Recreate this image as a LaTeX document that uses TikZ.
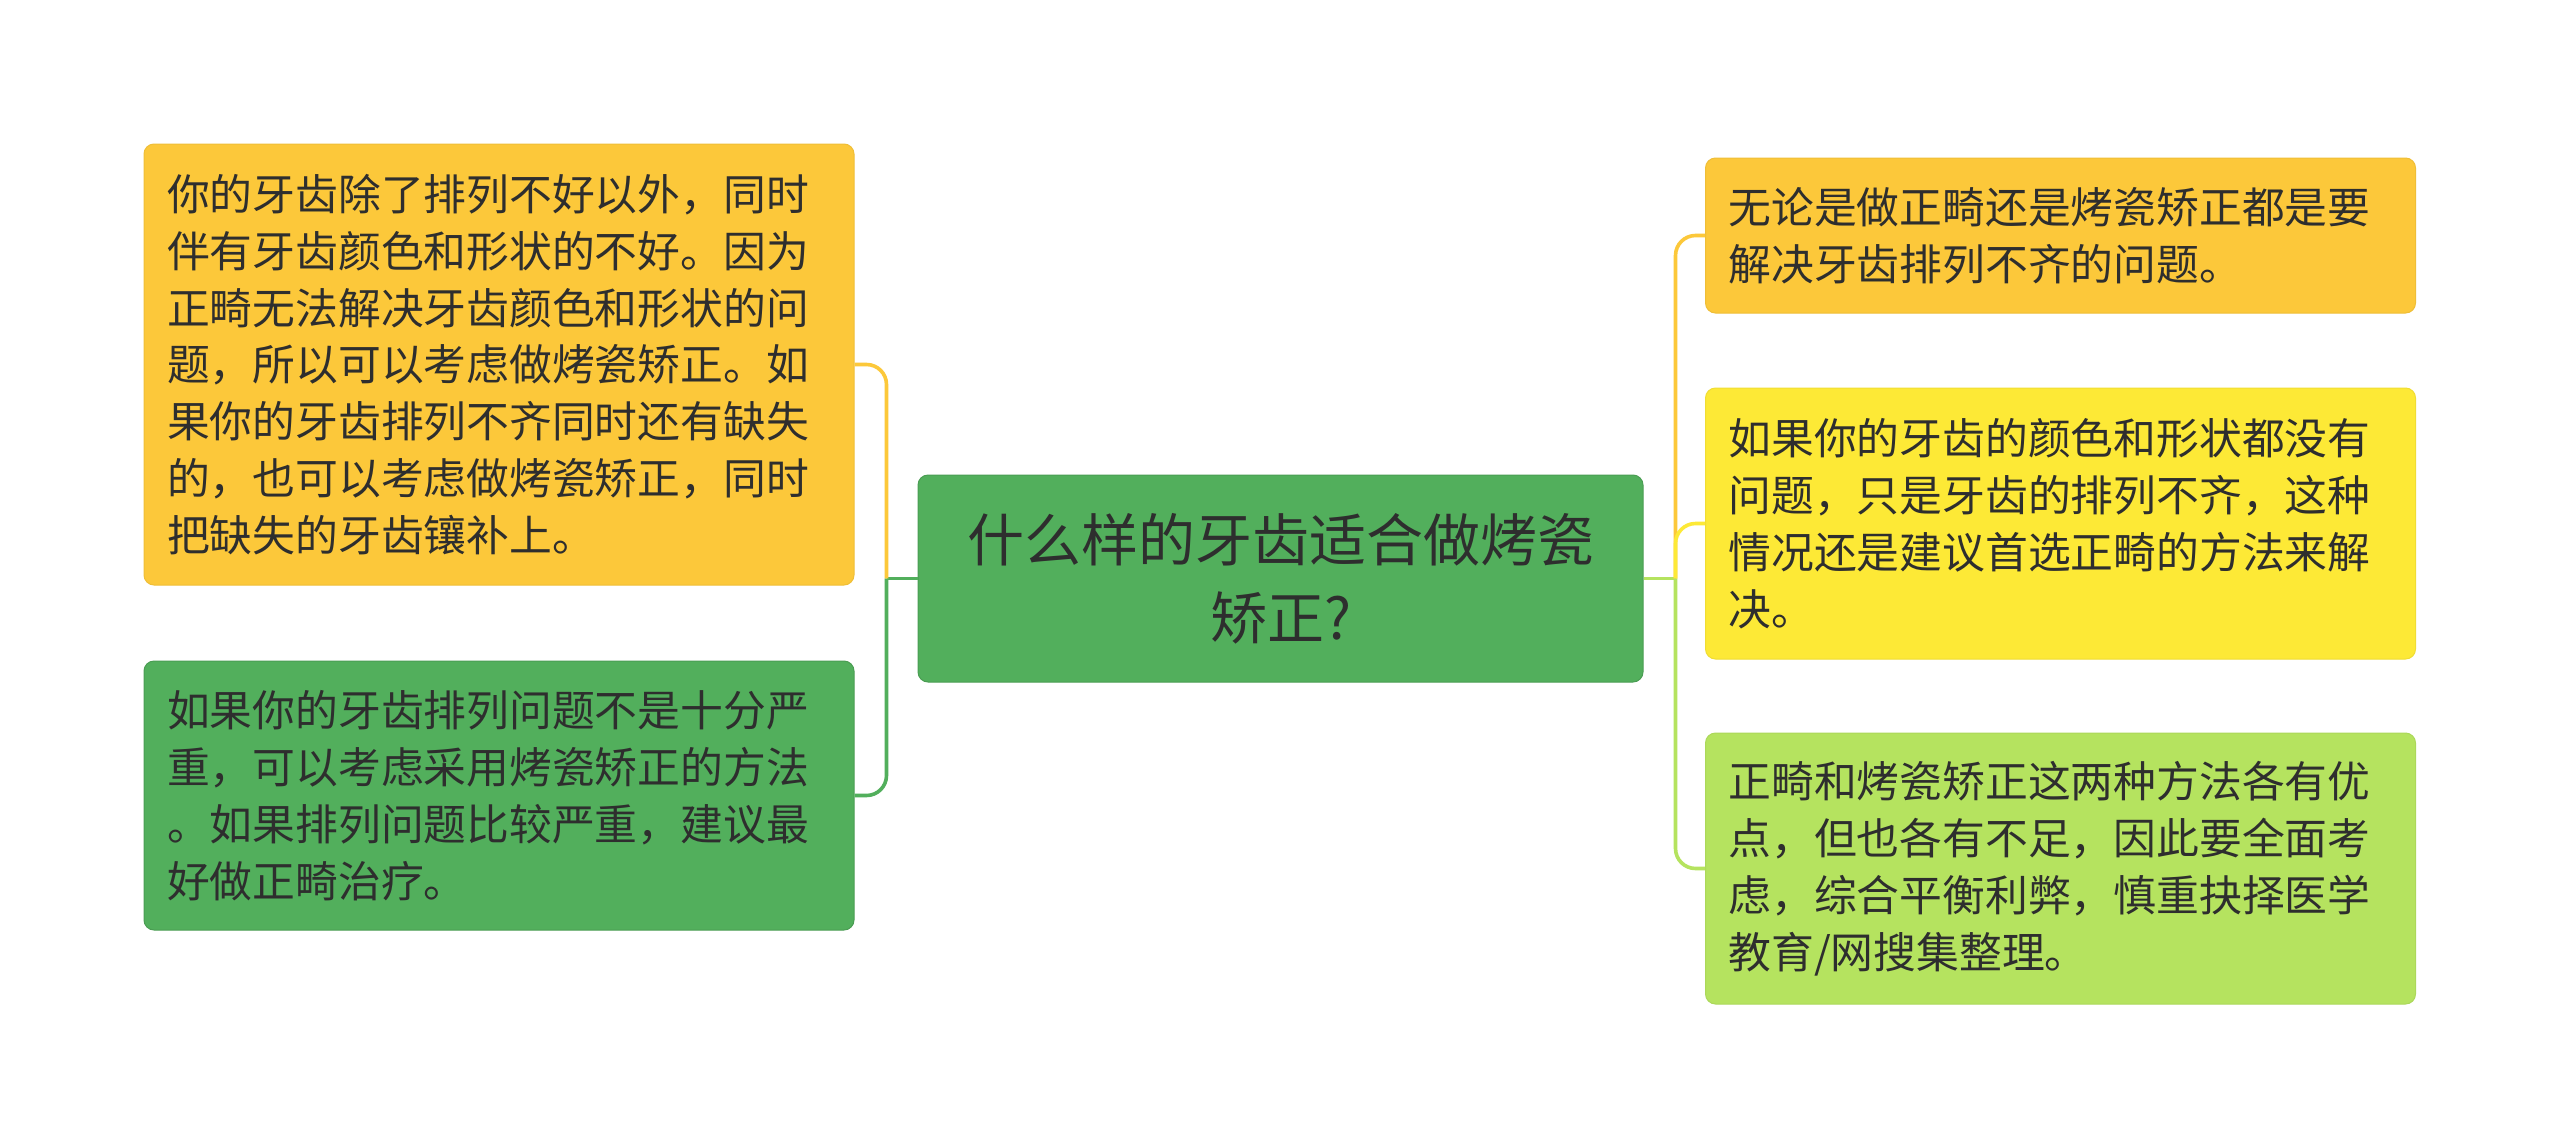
\documentclass[tikz,border=0pt]{standalone}
\usepackage{fontspec}
\newfontfamily\cjk{Noto Sans CJK SC}
\usetikzlibrary{positioning}

\definecolor{amber}{HTML}{FCC83A}
\definecolor{leaf}{HTML}{52AF5C}
\definecolor{lemon}{HTML}{FDE936}
\definecolor{lime}{HTML}{B5E35F}
\definecolor{ink}{HTML}{2E2E2E}

\begin{document}
\begin{tikzpicture}[
    x=0.5pt, y=-0.5pt,
    % central question
    topic/.style={
        rounded corners=5pt,
        fill=leaf,
        draw=leaf!90!black,
        line width=0.5pt,
        minimum width=362.5pt,
        minimum height=103.5pt,
        text width=330pt,
        align=center,
        text=ink,
        font={\cjk\fontsize{28.5pt}{39pt}\selectfont}
    },
    % side notes
    card/.style={
        rounded corners=5pt,
        line width=0.5pt,
        minimum width=355pt,
        text width=332pt,
        inner xsep=11.5pt,
        align=left,
        text=ink,
        font={\cjk\fontsize{21.4pt}{28.4pt}\selectfont}
    },
    link/.style={line width=1.8pt, rounded corners=10pt}
]

    \fill[white] (0,0) rectangle (2560,1146);
    \useasboundingbox (0,0) rectangle (2560,1146);

    % --- Nodes ---
    \node[topic] (ctr) at (1280.5,578.5) {什么样的牙齿适合做烤瓷\\矫正?};

    \node[card, fill=amber, draw=amber!95!black, minimum height=220.5pt] (ltop) at (499,364.5)
        {你的牙齿除了排列不好以外，同时\\伴有牙齿颜色和形状的不好。因为\\正畸无法解决牙齿颜色和形状的问\\题，所以可以考虑做烤瓷矫正。如\\果你的牙齿排列不齐同时还有缺失\\的，也可以考虑做烤瓷矫正，同时\\把缺失的牙齿镶补上。};
    \node[card, fill=leaf, draw=leaf!90!black, minimum height=134.5pt, below=37.5pt of ltop] (lbot)
        {如果你的牙齿排列问题不是十分严\\重，可以考虑采用烤瓷矫正的方法\\。如果排列问题比较严重，建议最\\好做正畸治疗。};

    \node[card, fill=amber, draw=amber!95!black, minimum height=77.5pt] (r1) at (2060.5,235.5)
        {无论是做正畸还是烤瓷矫正都是要\\解决牙齿排列不齐的问题。};
    \node[card, fill=lemon, draw=lemon!95!black, minimum height=135.5pt, below=37pt of r1] (r2)
        {如果你的牙齿的颜色和形状都没有\\问题，只是牙齿的排列不齐，这种\\情况还是建议首选正畸的方法来解\\决。};
    \node[card, fill=lime, draw=lime!95!black, minimum height=135.5pt, below=36.5pt of r2] (r3)
        {正畸和烤瓷矫正这两种方法各有优\\点，但也各有不足，因此要全面考\\虑，综合平衡利弊，慎重抉择医学\\教育/网搜集整理。};

    % --- Edges ---
    \coordinate (lj) at ([xshift=-15.5pt]ctr.west);
    \coordinate (rj) at ([xshift=16pt]ctr.east);

    % left branches
    \draw[link, leaf]  (ctr.west) -- (lj);
    \draw[link, amber] (lj) |- (ltop.east);
    \draw[link, leaf]  (lj) |- (lbot.east);

    % right branches
    \draw[link, lime]  (ctr.east) -- (rj);
    \draw[link, amber] (rj) |- (r1.west);
    \draw[link, lemon] (rj) |- (r2.west);
    \draw[link, lime]  (rj) |- (r3.west);

\end{tikzpicture}
\end{document}
